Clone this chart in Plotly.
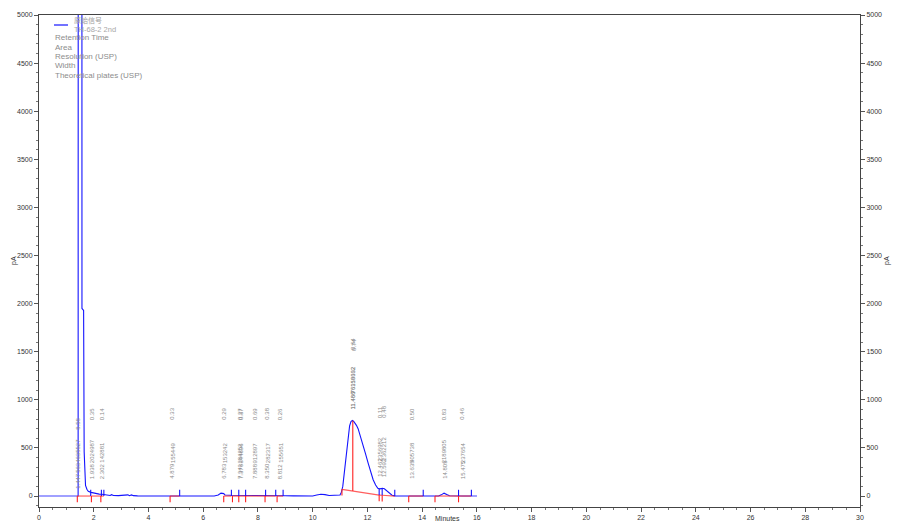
import numpy as np
import plotly.graph_objects as go

# ---------------- data ----------------
signal_t = [0.00, 1.40, 1.43, 1.44, 1.56, 1.57, 1.63, 1.65, 1.67, 1.70, 1.75, 1.80, 1.90, 2.00,
            2.10, 2.20, 2.30, 2.40, 2.50, 2.60, 2.65, 2.72, 2.90, 3.10, 3.15, 3.25, 3.30, 3.38,
            3.45, 3.60, 4.50, 5.00, 6.40, 6.55, 6.65, 6.75, 6.80, 7.00, 7.50, 8.00, 9.00, 9.30,
            10.00, 10.15, 10.30, 10.45, 10.60, 11.00, 11.05, 11.10, 11.15, 11.20, 11.25, 11.30,
            11.35, 11.40, 11.45, 11.50, 11.55, 11.60, 11.66, 11.75, 11.84, 11.93, 12.03, 12.12,
            12.21, 12.30, 12.38, 12.45, 12.55, 12.62, 12.70, 12.80, 12.90, 13.00, 13.50, 14.00,
            14.60, 14.70, 14.80, 14.90, 15.00, 15.50, 16.00]
signal_pa = [0, 0, 0, 20000, 20000, 1950, 1930, 460, 200, 110, 70, 50, 38, 30,
             25, 20, 18, 12, 8, 6, 14, 6, 4, 6, 14, 12, 4, 12,
             4, 2, 0, 0, 0, 10, 30, 25, 10, 8, 5, 5, 3, 2,
             0, 10, 18, 15, 5, 10, 40, 100, 220, 360, 500, 630,
             730, 775, 785, 775, 760, 735, 700, 620, 540, 440, 340, 250,
             170, 115, 80, 75, 80, 75, 55, 25, 8, 2, 0, 0,
             0, 12, 30, 15, 3, 0, 0]

peak_rt = [1.447, 1.938, 2.302, 4.879, 6.783, 7.343, 7.376, 7.888, 8.350, 8.812,
           11.466, 11.486, 12.462, 12.592, 13.635, 14.805, 15.475]
peak_area = [5634635527, 2024987, 142881, 155449, 153242, 284252, 344896, 912897, 282317, 155651,
             76319632, 76158362, 2356982, 2362212, 405738, 2189805, 237654]
peak_res = [8.58, 0.35, 0.14, 0.33, 0.29, 0.27, 0.37, 0.69, 0.38, 0.26,
            0.64, 0.74, 0.11, 0.48, 0.50, 0.83, 0.46]

# integration baselines: start time/level, end time/level
bl_t0 = [1.40, 1.915, 2.26, 4.79, 6.75, 7.07, 7.30, 7.55, 8.26, 8.70, 11.07, 12.43, 12.54, 13.51, 14.47, 15.33]
bl_y0 = [0, 0, 0, 0, 0, 0, 0, 0, 0, 0, 70, 10, 8, 0, 0, 0]
bl_t1 = [1.89, 2.28, 2.37, 5.14, 7.03, 7.30, 7.55, 8.28, 8.65, 8.92, 12.43, 12.54, 13.00, 14.04, 15.33, 15.80]
bl_y1 = [0, 0, 0, 0, 0, 0, 0, 0, 0, 0, 10, 8, 0, 0, 0, 0]

legend_lines = ["Retention Time", "Area", "Resolution (USP)", "Width", "Theoretical plates (USP)"]
series_name = "原始信号"
sample_name = "TH-68-2 2nd"

# ---------------- figure ----------------
OFF = 8                      # page body margin
PAGE_W, PAGE_H = 900, 531
PL, PR, PT, PB = 39, 860, 15, 507   # plot area in page pixels
W, H = PAGE_W - OFF, PAGE_H - OFF
ML, MR, MT, MB = PL - OFF, W + OFF - PR, PT - OFF, H + OFF - PB
PW, PH = PR - PL, PB - PT
YR = [-114, 5000]
XR = [0, 30]
FONT = "Liberation Sans, Arial, sans-serif"


def px_x(p):
    return (p - PL) / PW


def px_y(p):
    return (PB - p) / PH


fig = go.Figure()

# chromatogram
fig.add_trace(go.Scatter(x=signal_t, y=signal_pa, mode="lines",
                         line=dict(color="#1414ff", width=1.1), hoverinfo="skip"))

# pale overlay before first peak and after last
fig.add_trace(go.Scatter(x=[signal_t[0], bl_t0[0], None, bl_t1[-1], signal_t[-1]],
                         y=[0, 0, None, 0, 0], mode="lines",
                         line=dict(color="#a8a8ff", width=1.5), hoverinfo="skip"))

# baselines (red)
bx, by = [], []
for a, ya, b, yb in zip(bl_t0, bl_y0, bl_t1, bl_y1):
    bx += [a, b, None]
    by += [ya, yb, None]
fig.add_trace(go.Scatter(x=bx, y=by, mode="lines",
                         line=dict(color="rgba(255,40,40,0.75)", width=1.2), hoverinfo="skip"))

TL = 65  # tick length in pA
rx, ry, ux, uy = [], [], [], []
for a, ya, b, yb in zip(bl_t0, bl_y0, bl_t1, bl_y1):
    rx += [a, a, None]
    ry += [ya, ya - TL, None]
    ux += [b, b, None]
    uy += [yb, yb + TL, None]
fig.add_trace(go.Scatter(x=rx, y=ry, mode="lines", line=dict(color="#ff2020", width=1.1), hoverinfo="skip"))
fig.add_trace(go.Scatter(x=ux, y=uy, mode="lines", line=dict(color="#1414ff", width=1.1), hoverinfo="skip"))

# drop line at the main peak
main_i = int(np.argmax([a if a < 1e9 else 0 for a in peak_area]))
mrt = peak_rt[main_i]
seg = [k for k in range(len(bl_t0)) if bl_t0[k] <= mrt <= bl_t1[k]][0]
base_main = np.interp(mrt, [bl_t0[seg], bl_t1[seg]], [bl_y0[seg], bl_y1[seg]])
apex_main = np.interp(mrt, signal_t, signal_pa)
fig.add_trace(go.Scatter(x=[mrt, mrt], y=[base_main, apex_main], mode="lines",
                         line=dict(color="#ff2020", width=1.1), hoverinfo="skip"))

# dummy trace for the right axis
fig.add_trace(go.Scatter(x=[None], y=[None], yaxis="y2", showlegend=False, hoverinfo="skip"))

# peak labels
lab_font = dict(family=FONT, size=6, color="#8a8a8a")
for rt, area, res in zip(peak_rt, peak_area, peak_res):
    h = float(np.interp(rt, signal_t, signal_pa))
    if h > 4000:
        base = 60
    else:
        base = max(h + 110, 165)
    for txt, sh in [(f"{rt:.3f}", 0), (str(area), 16), (f"{res:.2f}", 59)]:
        fig.add_annotation(x=rt, y=base, text=txt, textangle=-90, showarrow=False,
                           xanchor="center", yanchor="bottom", yshift=sh, font=lab_font,
                           borderpad=0)

# legend block
fig.add_shape(type="line", xref="paper", yref="paper",
              x0=px_x(54), x1=px_x(68), y0=px_y(25), y1=px_y(25),
              line=dict(color="#1414ff", width=1.2))
fig.add_annotation(xref="paper", yref="paper", x=px_x(73), y=px_y(20), text=series_name,
                   showarrow=False, xanchor="left", yanchor="middle", borderpad=0,
                   font=dict(family="Noto Sans CJK SC", size=7, color="#a0a0a0"))
fig.add_annotation(xref="paper", yref="paper", x=px_x(73), y=px_y(29.5), text=sample_name,
                   showarrow=False, xanchor="left", yanchor="middle", borderpad=0,
                   font=dict(family=FONT, size=7.5, color="#a8a8a8"))
for k, txt in enumerate(legend_lines):
    fig.add_annotation(xref="paper", yref="paper", x=px_x(54), y=px_y(37.5 + 9.5 * k), text=txt,
                       showarrow=False, xanchor="left", yanchor="middle", borderpad=0,
                       font=dict(family=FONT, size=8, color="#8c8c8c"))

# axis titles
title_font = dict(family=FONT, size=7, color="#333333")
fig.add_annotation(xref="paper", yref="paper", x=px_x(8), y=px_y(260), text="pA", textangle=-90,
                   showarrow=False, font=title_font)
fig.add_annotation(xref="paper", yref="paper", x=px_x(893), y=px_y(260), text="pA", textangle=-90,
                   showarrow=False, font=title_font)
fig.add_annotation(xref="paper", yref="paper", x=px_x(447), y=px_y(524), text="Minutes",
                   showarrow=False, font=title_font)

tick_font = dict(family=FONT, size=7, color="#333333")
yaxis_common = dict(range=YR, tickmode="linear", tick0=0, dtick=500, ticks="outside", ticklen=4,
                    tickcolor="#555555", showline=True, linecolor="#444444", linewidth=1,
                    showgrid=False, zeroline=False, tickfont=tick_font,
                    minor=dict(dtick=100, tick0=0, ticks="outside", ticklen=2, tickcolor="#777777"))

fig.update_layout(
    width=W, height=H,
    margin=dict(l=ML, r=MR, t=MT, b=MB, autoexpand=False),
    paper_bgcolor="white", plot_bgcolor="white",
    showlegend=False,
    xaxis=dict(range=XR, tickmode="linear", tick0=0, dtick=2, ticks="outside", ticklen=4,
               tickcolor="#555555", showline=True, linecolor="#444444", linewidth=1, mirror=True,
               showgrid=False, zeroline=False, tickfont=tick_font,
               minor=dict(dtick=0.5, tick0=0, ticks="outside", ticklen=2, tickcolor="#777777")),
    yaxis=dict(**yaxis_common),
    yaxis2=dict(**yaxis_common, overlaying="y", side="right"),
)

fig.write_html("out.html")
